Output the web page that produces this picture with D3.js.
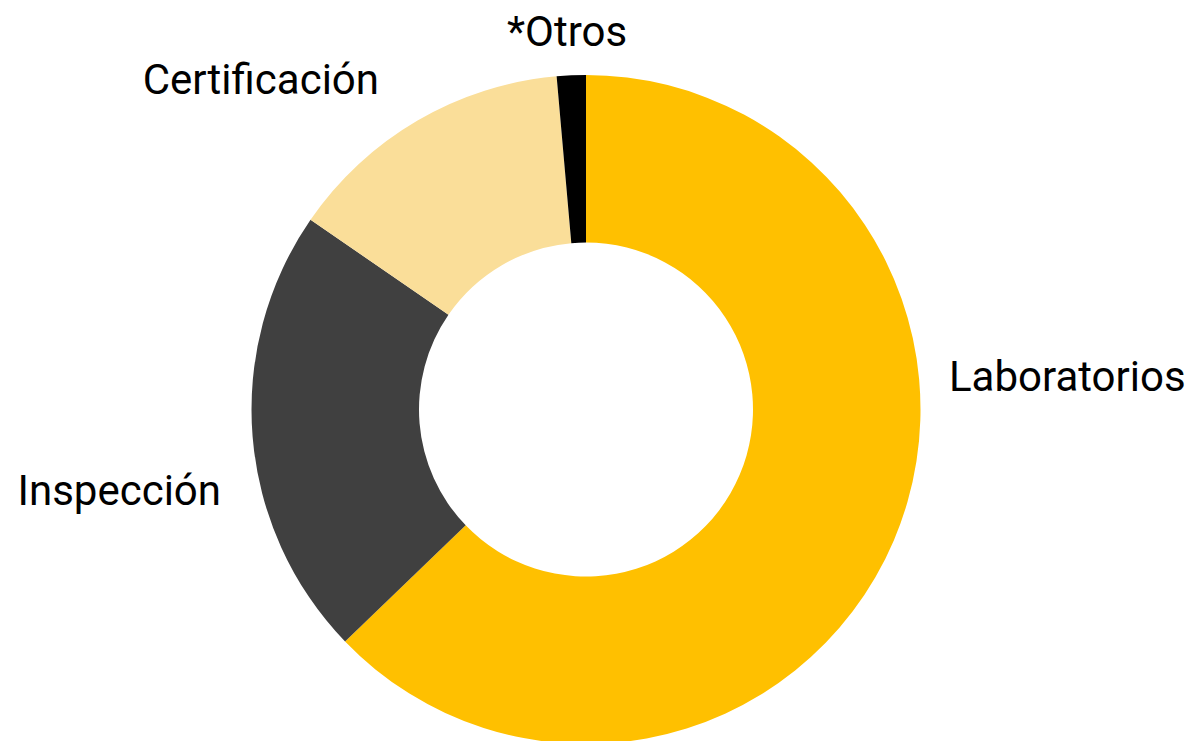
<!DOCTYPE html>
<html>
<head>
<meta charset="utf-8">
<script src="https://cdn.jsdelivr.net/npm/d3@7"></script>
<style>
  html, body { margin: 0; padding: 0; background: #fff; }
  svg { display: block; }
</style>
</head>
<body>
<svg id="chart" width="1195" height="741"></svg>
<script>
const categories = ["Laboratorios", "Inspección", "Certificación", "*Otros"];
const values = [62.8, 21.8, 14.0, 1.4];
const colors = ["#FFC000", "#404040", "#FADE99", "#000000"];
// label anchor layout (x, y baseline, text-anchor)
const labelLayout = [
  { x: 949, y: 391, anchor: "start" },
  { x: 221, y: 505, anchor: "end" },
  { x: 379, y: 94, anchor: "end" },
  { x: 567, y: 46, anchor: "middle" }
];

const W = 1195, H = 741;
const cx = 586, cy = 409.5, outerR = 334.5, innerR = 167;

const svg = d3.select("#chart");
const data = categories.map((c, i) => ({ name: c, value: values[i], color: colors[i], i }));

const pie = d3.pie().value(d => d.value).sort(null);
const arc = d3.arc().innerRadius(innerR).outerRadius(outerR);

const g = svg.append("g").attr("transform", `translate(${cx},${cy})`);
g.selectAll("path")
  .data(pie(data))
  .join("path")
  .attr("d", arc)
  .attr("fill", d => d.data.color);

svg.append("g").selectAll("text")
  .data(data)
  .join("text")
  .attr("x", d => labelLayout[d.i].x)
  .attr("y", d => labelLayout[d.i].y)
  .attr("text-anchor", d => labelLayout[d.i].anchor)
  .attr("font-family", "Roboto, sans-serif")
  .attr("font-size", 42)
  .attr("fill", "#000")
  .text(d => d.name);
</script>
</body>
</html>
